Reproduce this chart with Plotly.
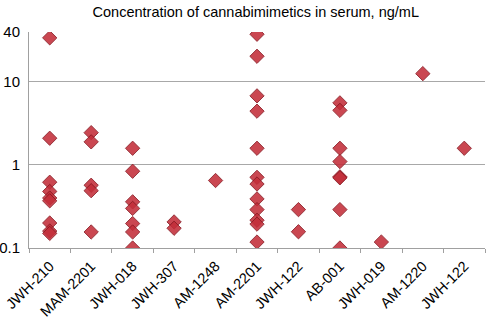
import plotly.graph_objects as go

categories = ["JWH-210", "MAM-2201", "JWH-018", "JWH-307", "AM-1248", "AM-2201",
              "JWH-122", "AB-001", "JWH-019", "AM-1220", "JWH-122"]

jwh210 = [34, 2.1, 0.62, 0.48, 0.40, 0.37, 0.20, 0.16, 0.15]
mam2201 = [2.45, 1.9, 0.57, 0.49, 0.156]
jwh018 = [1.59, 0.84, 0.36, 0.30, 0.197, 0.156, 0.1]
jwh307 = [0.206, 0.173]
am1248 = [0.65]
am2201 = [37.6, 20.4, 6.8, 4.45, 1.59, 0.71, 0.59, 0.39, 0.29, 0.216, 0.194, 0.118]
jwh122 = [0.29, 0.157]
ab001 = [5.6, 4.55, 1.59, 1.1, 0.72, 0.70, 0.29, 0.1]
jwh019 = [0.118]
am1220 = [12.6]
jwh122b = [1.59]

series = [jwh210, mam2201, jwh018, jwh307, am1248, am2201, jwh122, ab001, jwh019, am1220, jwh122b]

xs, ys = [], []
for i, vals in enumerate(series):
    xs += [i] * len(vals)
    ys += vals

y_ticks = [0.1, 1, 10, 40]
y_ticktext = ["0.1", "1", "10", "40"]

fig = go.Figure()
fig.add_trace(go.Scatter(
    x=xs, y=ys, mode="markers",
    marker=dict(symbol="diamond", size=11, color="#C32E3A", opacity=0.88,
                line=dict(color="#8A1922", width=1)),
    showlegend=False, hoverinfo="y"))

font = "Liberation Sans, Arial, sans-serif"
fig.update_layout(
    width=490, height=321,
    margin=dict(l=29, r=5, t=32, b=73, autoexpand=False),
    paper_bgcolor="white", plot_bgcolor="white",
    font=dict(family=font, size=14, color="#000000"),
    title=dict(text="Concentration of cannabimimetics in serum, ng/mL",
               x=0.522, xanchor="center", y=0.963, yanchor="middle",
               font=dict(family=font, size=14.5, color="#000000")),
    xaxis=dict(
        range=[-0.5, 10.5], tickmode="array", tickvals=list(range(len(categories))),
        ticktext=categories, tickangle=-45, ticks="", showgrid=False,
        zeroline=False, showline=True, linecolor="#A0A0A0", linewidth=1,
        tickfont=dict(size=14.5), automargin=False, ticklabelstandoff=3,
        minor=dict(tickmode="linear", tick0=-0.5, dtick=1, ticks="outside",
                   ticklen=4, tickcolor="#A0A0A0", showgrid=False),
    ),
    yaxis=dict(
        type="log", range=[-1, 1.602], tickmode="array", tickvals=y_ticks,
        ticktext=y_ticktext, ticks="", showgrid=False, zeroline=False,
        showline=True, linecolor="#A0A0A0", linewidth=1, tickfont=dict(size=15),
        automargin=False, ticklabelstandoff=5,
        minor=dict(tickmode="array", tickvals=[1, 10], showgrid=True,
                   gridcolor="#A8A8A8", gridwidth=1, ticks=""),
    ),
)

fig.write_html("out.html", config={"displayModeBar": False},
               post_script="document.body.style.margin='0';document.body.style.overflow='hidden';")
